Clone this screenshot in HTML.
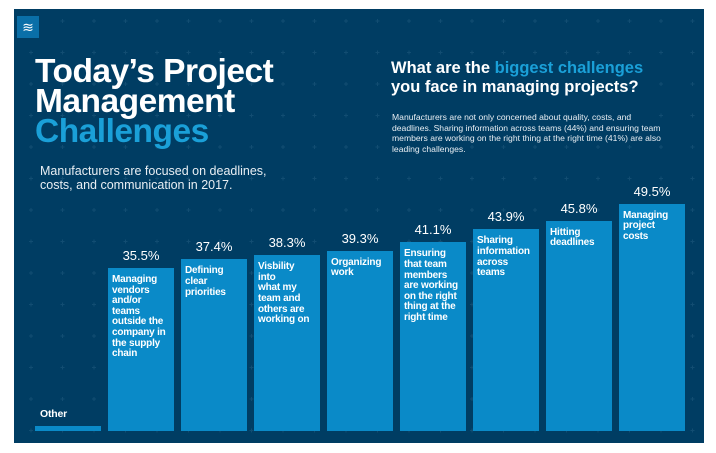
<!DOCTYPE html>
<html><head><meta charset="utf-8"><style>
html,body{margin:0;padding:0;background:#fff;width:716px;height:453px;overflow:hidden}
body{position:relative;font-family:"Liberation Sans",sans-serif}
#panel{position:absolute;left:14px;top:9px;width:690px;height:434px;background:#003d63}
.t{position:absolute;color:#fff}
</style></head><body>
<div id="panel">
<svg width="690" height="434" style="position:absolute;left:0;top:0">
<defs><pattern id="p" width="31.5" height="31.5" patternUnits="userSpaceOnUse" x="15" y="10">
<path d="M0 2 H4 M2 0 V4" stroke="#124d72" stroke-width="1"/></pattern></defs>
<rect width="690" height="434" fill="url(#p)"/></svg>
</div>
<div style="position:absolute;left:17px;top:16px;width:22px;height:22px;background:#0a6fa8;color:#fff;font-size:14px;line-height:22px;text-align:center">≋</div>
<div class="t" style="left:35px;top:57px;font-size:33.5px;font-weight:bold;line-height:30px;letter-spacing:-0.5px">Today’s Project<br>Management<br><span style="color:#1aa0d8">Challenges</span></div>
<div class="t" style="left:40px;top:164px;font-size:12.5px;line-height:14px;color:#e8eef3">Manufacturers are focused on deadlines,<br>costs, and communication in 2017.</div>
<div class="t" style="left:391px;top:59px;font-size:16.5px;font-weight:bold;line-height:19px">What are the <span style="color:#1aa0d8">biggest challenges</span><br>you face in managing projects?</div>
<div class="t" style="left:392px;top:112px;font-size:8.6px;line-height:10.7px;color:#e8eef3">Manufacturers are not only concerned about quality, costs, and<br>deadlines. Sharing information across teams (44%) and ensuring team<br>members are working on the right thing at the right time (41%) are also<br>leading challenges.</div>
<div id="chart"></div>
<script>
const categories=["Other","Managing vendors and/or teams outside the company in the supply chain","Defining clear priorities","Visbility into what my team and others are working on","Organizing work","Ensuring that team members are working on the right thing at the right time","Sharing information across teams","Hitting deadlines","Managing project costs"];
const labelLines=[["Other"],["Managing","vendors","and/or","teams","outside the","company in","the supply","chain"],["Defining","clear","priorities"],["Visbility","into","what my","team and","others are","working on"],["Organizing","work"],["Ensuring","that team","members","are working","on the right","thing at the","right time"],["Sharing","information","across","teams"],["Hitting","deadlines"],["Managing","project","costs"]];
const values=[1.1,35.5,37.4,38.3,39.3,41.1,43.9,45.8,49.5];
const valueLabels=["","35.5%","37.4%","38.3%","39.3%","41.1%","43.9%","45.8%","49.5%"];
const base=431,scale=4.59,x0=35,step=73,bw=66;
const y=v=>base-v*scale;
const x=i=>x0+i*step;
const c=document.getElementById('chart');
values.forEach((v,i)=>{
  const b=document.createElement('div');
  
  
  b.style.cssText=`position:absolute;left:${x(i)}px;top:${y(v)}px;width:${bw}px;height:${base-y(v)}px;background:#0a8ac8`;
  c.appendChild(b);
  const l=document.createElement('div');
  
  
  const top=i===0?y(v)-17:y(v)+7;
  l.style.cssText=`position:absolute;left:${x(i)+(i===0?5:4)}px;top:${top}px;color:#fff;font-size:${i===0?10.5:10}px;font-weight:bold;line-height:10.6px;letter-spacing:-0.2px;white-space:nowrap`;
  l.innerHTML=labelLines[i].join('<br>');
  c.appendChild(l);
  if(valueLabels[i]){
    const p=document.createElement('div');
    
    
    p.style.cssText=`position:absolute;left:${x(i)}px;top:${y(v)-20}px;width:${bw}px;text-align:center;color:#fff;font-size:13px`;
    p.textContent=valueLabels[i];
    c.appendChild(p);
  }
});
</script>
</body></html>
